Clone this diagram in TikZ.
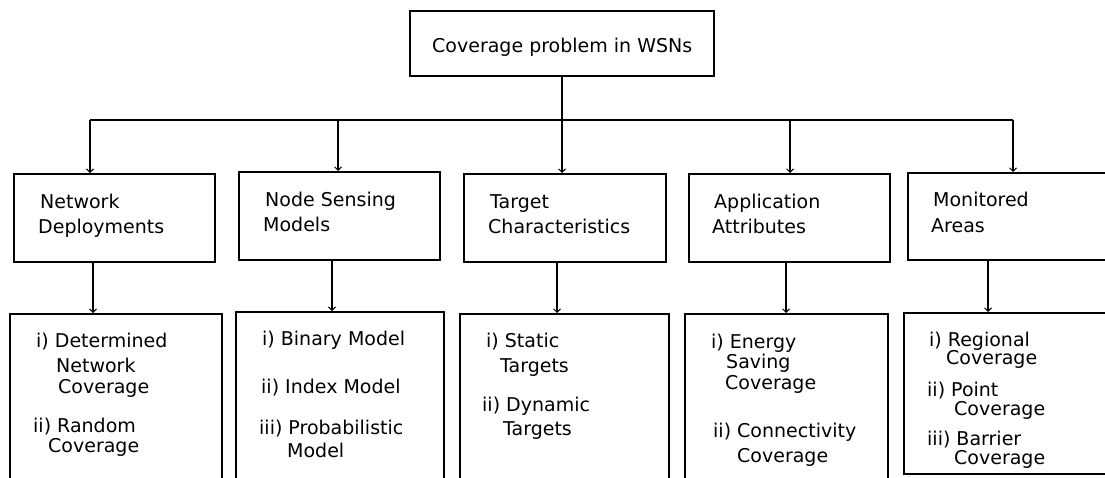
\documentclass[tikz,border=0pt]{standalone}
\usepackage{fontspec}
\setmainfont{DejaVu Sans}
\usetikzlibrary{arrows.meta}
\tikzset{
  box/.style={draw=black, line width=1.8pt, rectangle, inner sep=0pt, anchor=north west},
  lbl/.style={anchor=base west, inner sep=0pt, font=\fontsize{19}{22}\selectfont},
  arr/.style={draw=black, line width=1.8pt, -{Straight Barb[length=3.5pt,width=7pt,line width=1pt]}},
  bus/.style={draw=black, line width=1.8pt}
}
\begin{document}
\begin{tikzpicture}[x=1pt,y=-1pt]
\useasboundingbox (0,0) rectangle (1105,477);
\clip (0,0) rectangle (1105,477);
\node[box, minimum width=304pt, minimum height=65pt] (top) at (409,10) {};
\node[lbl] (toptxt) at (432,52) {Coverage problem in WSNs};
% row 2
\node[box, minimum width=201pt, minimum height=88pt] (nd) at (13,173) {};
\node[box, minimum width=201pt, minimum height=88pt] (ns) at (238,171) {};
\node[box, minimum width=202pt, minimum height=88pt] (tc) at (463,173) {};
\node[box, minimum width=201pt, minimum height=88pt] (aa) at (688,173) {};
\node[box, minimum width=210pt, minimum height=87pt] (ma) at (907,172) {};
% row 3
\node[box, minimum width=212pt, minimum height=180pt] (ndl) at (9,313) {};
\node[box, minimum width=208pt, minimum height=182pt] (nsl) at (235,311) {};
\node[box, minimum width=209pt, minimum height=180pt] (tcl) at (459,313) {};
\node[box, minimum width=203pt, minimum height=180pt] (aal) at (684,313) {};
\node[box, minimum width=214pt, minimum height=161pt] (mal) at (903,312) {};
% row 2 labels
\node[lbl] (nd1) at (40,208) {Network};
\node[lbl] (nd2) at (38,233) {Deployments};
\node[lbl] (ns1) at (265,206) {Node Sensing};
\node[lbl] (ns2) at (263,231) {Models};
\node[lbl] (tc1) at (490,208) {Target};
\node[lbl] (tc2) at (488,233) {Characteristics};
\node[lbl] (aa1) at (714,208) {Application};
\node[lbl] (aa2) at (712,233) {Attributes};
\node[lbl] (ma1) at (933,206) {Monitored};
\node[lbl] (ma2) at (931,232) {Areas};
% row 3 labels
\node[lbl] (a1) at (36,347) {i) Determined};
\node[lbl] (a2) at (56,372) {Network};
\node[lbl] (a3) at (58,393) {Coverage};
\node[lbl] (a4) at (33,432) {ii) Random};
\node[lbl] (a5) at (48,452) {Coverage};
\node[lbl] (b1t) at (262,345) {i) Binary Model};
\node[lbl] (b2t) at (261,393) {ii) Index Model};
\node[lbl] (b3t) at (259,434) {iii) Probabilistic};
\node[lbl] (b4t) at (287,457) {Model};
\node[lbl] (c1) at (486,347) {i) Static};
\node[lbl] (c2) at (500,372) {Targets};
\node[lbl] (c3) at (482,411) {ii) Dynamic};
\node[lbl] (c4) at (503,435) {Targets};
\node[lbl] (d1t) at (711,348) {i) Energy};
\node[lbl] (d2t) at (726,368) {Saving};
\node[lbl] (d3t) at (725,389) {Coverage};
\node[lbl] (d4t) at (713,437) {ii) Connectivity};
\node[lbl] (d5t) at (737,462) {Coverage};
\node[lbl] (e1) at (929,346) {i) Regional};
\node[lbl] (e2) at (946,364) {Coverage};
\node[lbl] (e3) at (927,396) {ii) Point};
\node[lbl] (e4) at (954,415) {Coverage};
\node[lbl] (e5) at (927,445) {iii) Barrier};
\node[lbl] (e6) at (954,464) {Coverage};
% bus
\coordinate (p1) at (90,120);
\coordinate (p2) at (338,120);
\coordinate (p3) at (562,120);
\coordinate (p4) at (790,120);
\coordinate (p5) at (1013,120);
\draw[arr] (top.south -| p3) -- (p3 |- tc.north);
\draw[bus] (p1) -- (p5);
\draw[arr] (p1) -- (p1 |- nd.north);
\draw[arr] (p2) -- (p2 |- ns.north);
\draw[arr] (p4) -- (p4 |- aa.north);
\draw[arr] (p5) -- (p5 |- ma.north);
% row 2 -> row 3
\coordinate (q1) at (93,0);
\coordinate (q2) at (332,0);
\coordinate (q3) at (557,0);
\coordinate (q4) at (786,0);
\coordinate (q5) at (988,0);
\draw[arr] (q1 |- nd.south) -- (q1 |- ndl.north);
\draw[arr] (q2 |- ns.south) -- (q2 |- nsl.north);
\draw[arr] (q3 |- tc.south) -- (q3 |- tcl.north);
\draw[arr] (q4 |- aa.south) -- (q4 |- aal.north);
\draw[arr] (q5 |- ma.south) -- (q5 |- mal.north);
\end{tikzpicture}
\end{document}
